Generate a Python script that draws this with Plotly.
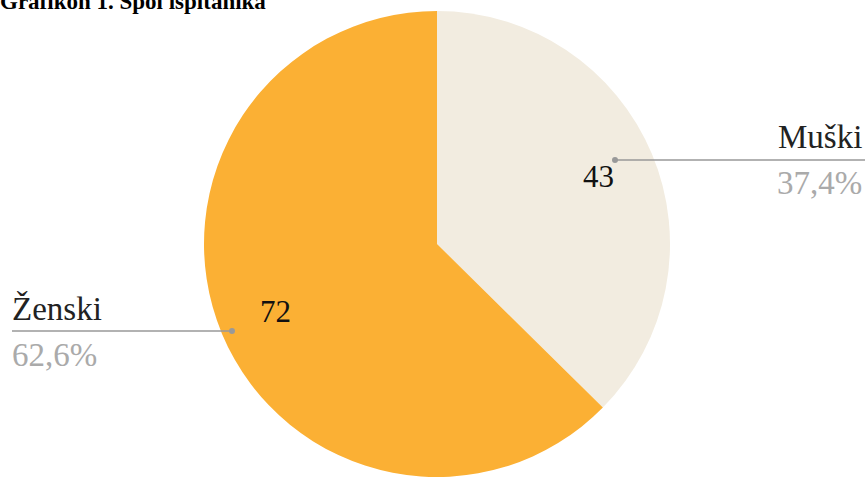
import math
import plotly.graph_objects as go

labels = ["Muški", "Ženski"]
values = [43, 72]
percent_labels = ["37,4%", "62,6%"]
colors = ["#F2ECE0", "#FBB034"]

W, H = 865, 477
SERIF = "Liberation Serif, Times New Roman, serif"

dom_x = [204 / W, 670 / W]
dom_y = [0, 0.977]

fig = go.Figure(go.Pie(
    labels=labels, values=values, sort=False, direction="clockwise", rotation=0,
    marker=dict(colors=colors, line=dict(width=0)),
    textinfo="none",
    domain=dict(x=dom_x, y=dom_y),
    hoverinfo="label+value+percent", showlegend=False,
))

def px(x):
    return x / W

def py(y):
    return 1 - y / H

# value labels placed along each slice bisector (from the data)
cx_p = (dom_x[0] + dom_x[1]) / 2
cy_p = (dom_y[0] + dom_y[1]) / 2
r_px = min((dom_x[1] - dom_x[0]) * W, (dom_y[1] - dom_y[0]) * H) / 2
total = sum(values)
ann = []
cum = 0
for v in values:
    mid = (cum + v / 2) / total * 2 * math.pi
    cum += v
    dx = 0.75 * r_px * math.sin(mid)
    dy = 0.75 * r_px * math.cos(mid)
    ann.append(dict(text=str(v), x=cx_p + dx / W, y=cy_p + dy / H, xref="paper", yref="paper",
                    xanchor="center", yanchor="middle", showarrow=False,
                    font=dict(family=SERIF, size=31, color="#111111")))

shapes = []
# title
ann.append(dict(text="<b>Grafikon 1. Spol ispitanika</b>", x=px(-2), y=py(16), xref="paper", yref="paper",
                xanchor="left", yanchor="bottom", showarrow=False,
                font=dict(family=SERIF, size=23, color="#000000")))
# Muški label
ann.append(dict(text=labels[0], x=px(864), y=py(157), xref="paper", yref="paper",
                xanchor="right", yanchor="bottom", showarrow=False,
                font=dict(family=SERIF, size=33, color="#222222")))
ann.append(dict(text=percent_labels[0], x=px(864), y=py(163), xref="paper", yref="paper",
                xanchor="right", yanchor="top", showarrow=False,
                font=dict(family=SERIF, size=33, color="#AAAAAA")))
shapes.append(dict(type="line", xref="paper", yref="paper", x0=px(615), x1=px(865), y0=py(160), y1=py(160),
                   line=dict(color="#999999", width=1.5)))
shapes.append(dict(type="circle", xref="paper", yref="paper", x0=px(612), x1=px(618), y0=py(157), y1=py(163),
                   fillcolor="#999999", line=dict(width=0)))
# Ženski label
ann.append(dict(text=labels[1], x=px(10), y=py(329), xref="paper", yref="paper",
                xanchor="left", yanchor="bottom", showarrow=False,
                font=dict(family=SERIF, size=33, color="#222222")))
ann.append(dict(text=percent_labels[1], x=px(10), y=py(335), xref="paper", yref="paper",
                xanchor="left", yanchor="top", showarrow=False,
                font=dict(family=SERIF, size=33, color="#AAAAAA")))
shapes.append(dict(type="line", xref="paper", yref="paper", x0=px(12), x1=px(232), y0=py(331), y1=py(331),
                   line=dict(color="#999999", width=1.5)))
shapes.append(dict(type="circle", xref="paper", yref="paper", x0=px(229), x1=px(235), y0=py(328), y1=py(334),
                   fillcolor="#999999", line=dict(width=0)))

fig.update_layout(width=W, height=H, margin=dict(l=0, r=0, t=0, b=0),
                  paper_bgcolor="white", plot_bgcolor="white",
                  annotations=ann, shapes=shapes)

fig.write_html("out.html", config={"displayModeBar": False},
               post_script="document.body.style.margin='0';document.body.style.overflow='hidden';")
